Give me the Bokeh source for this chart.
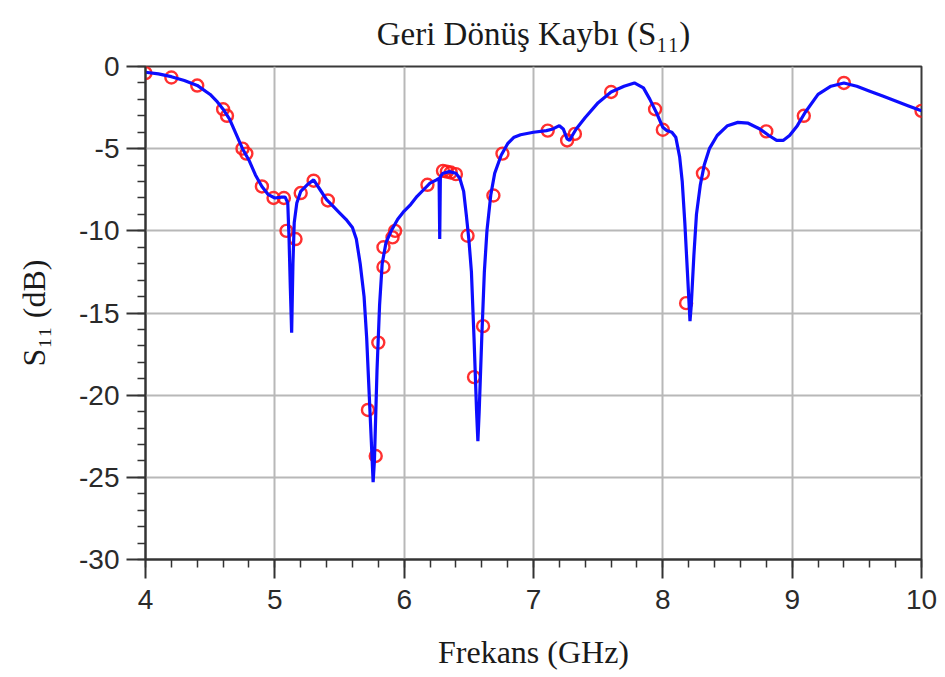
from bokeh.plotting import figure
from bokeh.models import Range1d, SingleIntervalTicker, PrintfTickFormatter
from bokeh.embed import file_html
from bokeh.resources import INLINE

# ---- data ----
freq = [4.00, 4.10, 4.20, 4.30, 4.40, 4.50, 4.55, 4.60, 4.65, 4.70, 4.75, 4.80,
        4.85, 4.90, 4.95, 5.00, 5.05, 5.08, 5.10, 5.11, 5.12, 5.13, 5.14, 5.15,
        5.17, 5.20, 5.25, 5.30, 5.35, 5.40, 5.45, 5.50, 5.55, 5.60, 5.63, 5.66,
        5.69, 5.71, 5.73, 5.75, 5.76, 5.77, 5.79, 5.81, 5.83, 5.86, 5.90, 5.95,
        6.00, 6.05, 6.10, 6.15, 6.20, 6.25, 6.27, 6.275, 6.28, 6.30, 6.35, 6.40,
        6.43, 6.46, 6.48, 6.50, 6.52, 6.54, 6.56, 6.57, 6.58, 6.60, 6.62, 6.64,
        6.67, 6.70, 6.75, 6.80, 6.85, 6.90, 7.00, 7.10, 7.15, 7.20, 7.23, 7.26,
        7.28, 7.30, 7.33, 7.40, 7.50, 7.60, 7.70, 7.78, 7.85, 7.90, 7.95, 8.00,
        8.03, 8.07, 8.10, 8.13, 8.15, 8.17, 8.19, 8.21, 8.22, 8.24, 8.26, 8.29,
        8.32, 8.36, 8.42, 8.50, 8.58, 8.66, 8.75, 8.82, 8.88, 8.93, 8.98, 9.04,
        9.10, 9.20, 9.30, 9.40, 9.50, 9.60, 9.70, 9.80, 9.90, 10.00]
s11_db = [-0.35, -0.45, -0.62, -0.85, -1.15, -1.7, -2.1, -2.6, -3.2, -4.1, -5.0, -5.7,
          -6.6, -7.3, -7.8, -8.0, -7.95, -7.95, -8.3, -10.5, -13.5, -16.2, -12.0, -9.5,
          -8.3, -7.6, -7.2, -6.9, -7.5, -8.1, -8.5, -8.9, -9.3, -9.8, -10.5, -12.0,
          -14.0, -16.5, -20.0, -23.5, -25.3, -24.0, -18.5, -14.5, -12.0, -10.7, -10.0, -9.3,
          -8.8, -8.4, -7.9, -7.5, -7.1, -6.9, -6.8, -10.5, -6.7, -6.5, -6.4, -6.5,
          -6.8, -7.6, -9.0, -10.5, -12.5, -16.5, -21.0, -22.8, -21.0, -16.5, -12.5, -10.0,
          -7.8, -6.5, -5.4, -4.7, -4.3, -4.15, -4.0, -3.9, -3.8, -3.6, -3.8, -4.4,
          -4.5, -4.2, -3.8, -3.1, -2.2, -1.55, -1.2, -1.0, -1.3, -2.0, -2.8, -3.7,
          -3.9, -4.0, -4.3, -5.5, -7.0, -9.5, -12.5, -15.5, -14.5, -11.5, -9.0, -7.2,
          -6.0, -5.0, -4.2, -3.6, -3.4, -3.45, -3.8, -4.2, -4.5, -4.5, -4.2, -3.6,
          -2.8, -1.7, -1.2, -1.0, -1.2, -1.5, -1.8, -2.1, -2.4, -2.7]

marker_freq = [4.00, 4.20, 4.40, 4.60, 4.63, 4.75, 4.78, 4.90, 4.99, 5.07, 5.09, 5.16,
               5.20, 5.30, 5.41, 5.72, 5.78, 5.80, 5.84, 5.84, 5.91, 5.93, 6.18, 6.30,
               6.33, 6.36, 6.40, 6.49, 6.54, 6.61, 6.69, 6.76, 7.11, 7.26, 7.32, 7.60,
               7.94, 8.00, 8.18, 8.31, 8.80, 9.09, 9.40, 10.00]
marker_s11 = [-0.4, -0.67, -1.16, -2.6, -3.0, -5.0, -5.3, -7.3, -8.0, -8.0, -10.0, -10.5,
              -7.7, -6.95, -8.15, -20.9, -23.7, -16.8, -12.2, -11.0, -10.4, -10.0, -7.2, -6.35,
              -6.4, -6.45, -6.55, -10.3, -18.9, -15.8, -7.85, -5.3, -3.9, -4.5, -4.1, -1.55,
              -2.6, -3.85, -14.4, -6.5, -3.95, -3.0, -1.0, -2.7]

x_min, x_max, x_step = 4, 10, 1
y_min, y_max, y_step = -30, 0, 5

title_text = "Geri Dönüş Kaybı (S₁₁)"
xlabel_text = "Frekans (GHz)"
ylabel_text = "S₁₁ (dB)"

# ---- figure ----
W, H = 937, 677
p = figure(width=W, height=H, x_range=Range1d(x_min, x_max), y_range=Range1d(y_min, y_max),
           output_backend="svg", toolbar_location=None, title=title_text,
           min_border_left=145, min_border_right=16, min_border_top=66, min_border_bottom=118)
p.background_fill_color = "white"
p.border_fill_color = "white"
p.outline_line_color = "#3a3a3a"
p.outline_line_width = 2

p.title.text_font = "Liberation Serif"
p.title.text_font_style = "normal"
p.title.text_font_size = "33px"
p.title.text_color = "#1a1a1a"
p.title.align = "center"
p.title.vertical_align = "top"
p.title.offset = 12
p.title.standoff = 25

p.xaxis.ticker = SingleIntervalTicker(interval=x_step, num_minor_ticks=5)
p.yaxis.ticker = SingleIntervalTicker(interval=y_step, num_minor_ticks=5)
for ax in (p.xaxis[0], p.yaxis[0]):
    ax.formatter = PrintfTickFormatter(format="%d")
    ax.axis_line_color = "#333333"
    ax.axis_line_width = 2
    ax.major_tick_line_color = "#333333"
    ax.major_tick_line_width = 2
    ax.minor_tick_line_color = "#333333"
    ax.minor_tick_line_width = 1.5
    ax.major_tick_in = 0
    ax.major_tick_out = 19
    ax.minor_tick_in = 0
    ax.minor_tick_out = 8
    ax.major_label_text_font = "Liberation Sans"
    ax.major_label_text_font_size = "28px"
    ax.major_label_text_color = "#2a2a2a"
    ax.axis_label_text_font = "Liberation Serif"
    ax.axis_label_text_font_style = "normal"
    ax.axis_label_text_font_size = "32px"
    ax.axis_label_text_color = "#1a1a1a"
p.xaxis.major_label_standoff = 11
p.yaxis.major_label_standoff = 7
p.xaxis.axis_label = xlabel_text
p.yaxis.axis_label = ylabel_text
p.xaxis.axis_label_standoff = 22
p.yaxis.axis_label_standoff = 24

p.xgrid.grid_line_color = "#b8b8b8"
p.ygrid.grid_line_color = "#b8b8b8"
p.xgrid.grid_line_width = 2
p.ygrid.grid_line_width = 2

p.scatter(marker_freq, marker_s11, marker="circle", size=12, fill_color=None,
          line_color="#ff1a1a", line_width=2.4, line_alpha=0.9)
p.line(freq, s11_db, line_color="#0d0dff", line_width=3.2)

open("out.html", "w").write(file_html(p, INLINE))
